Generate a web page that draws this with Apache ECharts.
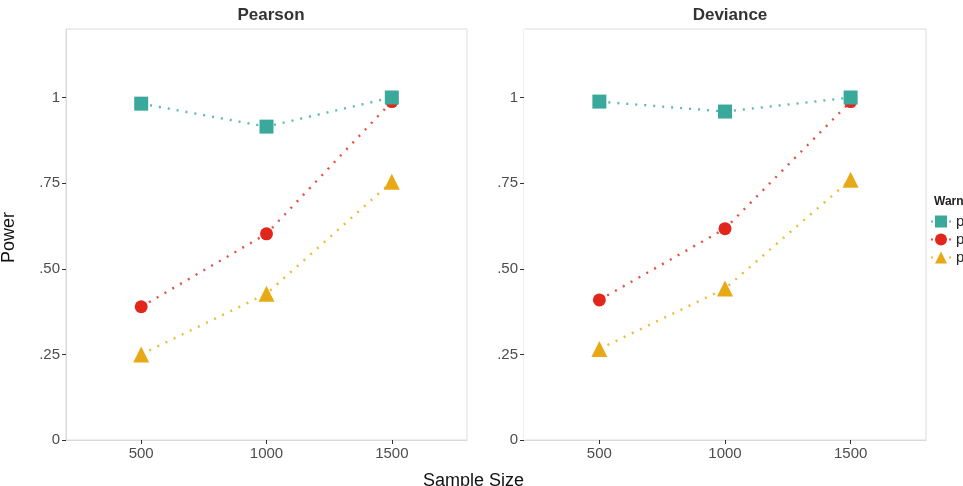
<!DOCTYPE html>
<html>
<head>
<meta charset="utf-8">
<script src="https://cdn.jsdelivr.net/npm/echarts@6/dist/echarts.min.js"></script>
<style>
  html, body { margin: 0; padding: 0; background: #fff; }
  #chart { width: 963px; height: 486px; }
</style>
</head>
<body>
<div id="chart"></div>
<script>
// 样本量与检验功效
var sampleSizes = [500, 1000, 1500];
var panels = ['Pearson', 'Deviance'];
var groups = ['p < .01', 'p < .05', 'p < .10'];

// 每个面板三组数据
var pearsonSquare = [0.982, 0.915, 1.0];
var pearsonCircle = [0.389, 0.602, 0.988];
var pearsonTriangle = [0.25, 0.427, 0.754];
var devianceSquare = [0.988, 0.959, 1.0];
var devianceCircle = [0.409, 0.617, 0.988];
var devianceTriangle = [0.266, 0.442, 0.760];

var yTicks = [0, 0.25, 0.5, 0.75, 1];
var yTickLabels = ['0', '.25', '.50', '.75', '1'];

var pointColors = ['#3aa99c', '#e3261c', '#e8a916'];
var lineColors = ['#5bbcae', '#e6503f', '#edbb3a'];
var symbols = ['rect', 'circle', 'triangle'];
var symbolSizes = [14, 13, 16];

var myChart = echarts.init(document.getElementById('chart'));

function pairs(vals) {
    return sampleSizes.map(function(s, i) { return [s, vals[i]]; });
}

function makeSeries(name, vals, k, idx) {
    return {
        name: name,
        type: 'line',
        xAxisIndex: idx,
        yAxisIndex: idx,
        data: pairs(vals),
        symbol: symbols[k],
        symbolSize: symbolSizes[k],
        itemStyle: { color: pointColors[k] },
        lineStyle: { color: lineColors[k], width: 2.4, type: [2, 7] },
        z: 3 - k,
        animation: false
    };
}

function xAxisOpt(idx) {
    return {
        type: 'value',
        gridIndex: idx,
        min: 200,
        max: 1800,
        splitLine: { show: false },
        axisLine: { show: true, lineStyle: { color: '#d9d9d9', width: 1 } },
        axisTick: { show: true, length: 4, lineStyle: { color: '#333' }, customValues: sampleSizes },
        axisLabel: {
            customValues: sampleSizes,
            color: '#4d4d4d',
            fontSize: 15,
            fontFamily: 'Liberation Sans Narrow, Liberation Sans, Arial',
            margin: 6,
            formatter: function(v) { return String(v); }
        }
    };
}

function yAxisOpt(idx, lineColor) {
    return {
        type: 'value',
        gridIndex: idx,
        min: 0,
        max: 1.2,
        splitLine: { show: false },
        axisLine: { show: true, lineStyle: { color: lineColor, width: 1 } },
        axisTick: { show: true, length: 4, lineStyle: { color: '#333' }, customValues: yTicks },
        axisLabel: {
            customValues: yTicks,
            color: '#4d4d4d',
            fontSize: 15,
            fontFamily: 'Liberation Sans Narrow, Liberation Sans, Arial',
            margin: 6,
            formatter: function(v) {
                var i = yTicks.indexOf(v);
                return i >= 0 ? yTickLabels[i] : '';
            }
        }
    };
}

var option = {
    backgroundColor: '#fff',
    title: [
        { text: panels[0], left: 266, top: 2, textAlign: 'center',
          textStyle: { fontSize: 17, fontWeight: 'bold', color: '#333', fontFamily: 'Liberation Sans, Arial' } },
        { text: panels[1], left: 725, top: 2, textAlign: 'center',
          textStyle: { fontSize: 17, fontWeight: 'bold', color: '#333', fontFamily: 'Liberation Sans, Arial' } },
        { text: 'Warning', left: 934, top: 196, padding: 0,
          textStyle: { fontSize: 12, fontWeight: 'bold', color: '#222', fontFamily: 'Liberation Sans, Arial' } }
    ],
    legend: {
        data: groups,
        orient: 'vertical',
        left: 930,
        top: 214,
        padding: 0,
        itemWidth: 20,
        itemHeight: 15,
        itemGap: 3,
        textStyle: { fontSize: 15, lineHeight: 13, color: '#222', fontFamily: 'Liberation Sans, Arial' },
        selectedMode: false
    },
    grid: [
        { left: 66, top: 29, width: 401, height: 411, show: true, borderColor: '#dcdcdc', borderWidth: 1 },
        { left: 524, top: 29, width: 402, height: 411, show: true, borderColor: '#dcdcdc', borderWidth: 1 }
    ],
    xAxis: [xAxisOpt(0), xAxisOpt(1)],
    yAxis: [yAxisOpt(0, '#d9d9d9'), yAxisOpt(1, '#ffffff')],
    graphic: [
        { type: 'text', left: 423, top: 472,
          style: { text: 'Sample Size', fontSize: 18, fill: '#111', fontFamily: 'Liberation Sans, Arial' } },
        { type: 'text', x: 0, y: 263, rotation: Math.PI / 2,
          style: { text: 'Power', fontSize: 18, fill: '#111', fontFamily: 'Liberation Sans, Arial' } }
    ],
    series: [
        makeSeries(groups[0], pearsonSquare, 0, 0),
        makeSeries(groups[1], pearsonCircle, 1, 0),
        makeSeries(groups[2], pearsonTriangle, 2, 0),
        makeSeries(groups[0], devianceSquare, 0, 1),
        makeSeries(groups[1], devianceCircle, 1, 1),
        makeSeries(groups[2], devianceTriangle, 2, 1)
    ]
};
myChart.setOption(option);
</script>
</body>
</html>
